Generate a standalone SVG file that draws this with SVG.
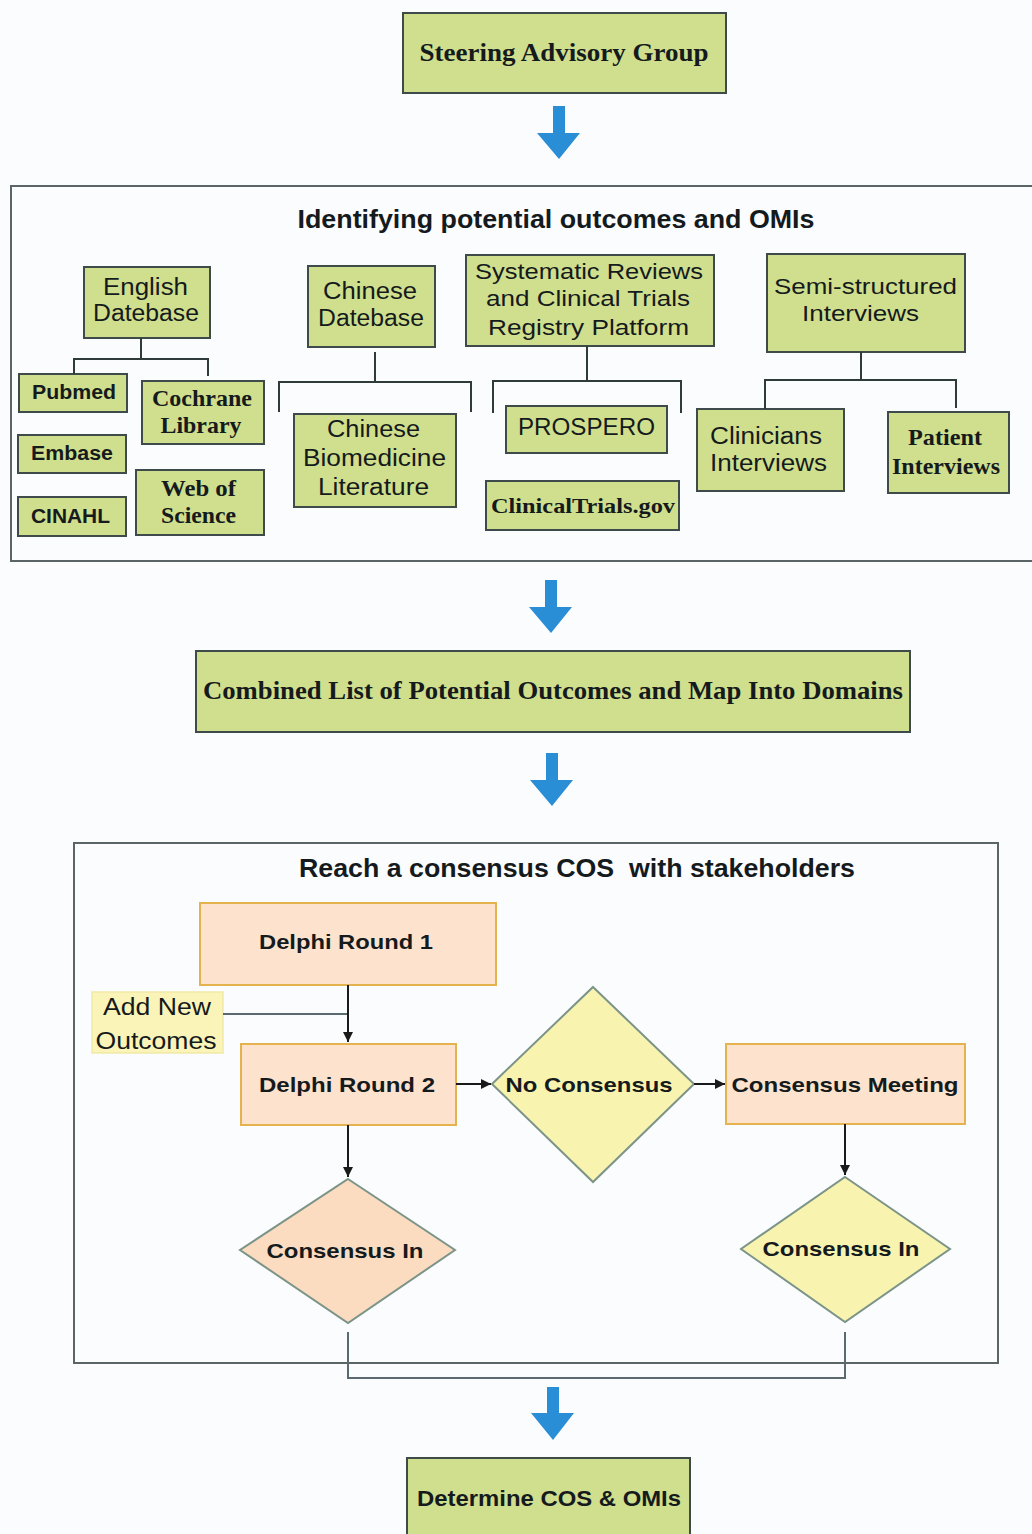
<svg xmlns="http://www.w3.org/2000/svg" width="1032" height="1534" viewBox="0 0 1032 1534">
<defs>
<style>
.bg{fill:#fbfcfe}
.g{fill:#d0df8d;stroke:#3f4b4b;stroke-width:2}
.sec{fill:none;stroke:#5b6568;stroke-width:2}
.br{fill:none;stroke:#2f3a3a;stroke-width:2}
.pe{fill:#fde3cd;stroke:#e5b34d;stroke-width:2}
.dy{fill:#f9f3b0;stroke:#7c9488;stroke-width:2}
.dp{fill:#fbdcc1;stroke:#7c9488;stroke-width:2}
.ny{fill:#fbf4b8;stroke:#f1e9a6;stroke-width:1.5}
.ss{font-family:"Liberation Sans",Arial,sans-serif;fill:#151a1c;text-anchor:middle}
.sb{font-family:"Liberation Sans",Arial,sans-serif;font-weight:bold;fill:#151a1c;text-anchor:middle}
.sf{font-family:"Liberation Serif","Times New Roman",serif;font-weight:bold;fill:#151a1c;text-anchor:middle}
.blue{fill:#2a8ed6}
.cn{fill:none;stroke:#1a1a1a;stroke-width:2}
.gl{fill:none;stroke:#5a6a70;stroke-width:2}
</style>
<marker id="ah" viewBox="0 0 10 10" refX="10" refY="5" markerWidth="5" markerHeight="5" orient="auto" markerUnits="strokeWidth">
<path d="M0,0 L10,5 L0,10 z" fill="#1a1a1a"/>
</marker>
</defs>
<rect class="bg" x="0" y="0" width="1032" height="1534"/>

<g id="steering">
<rect class="g" x="403" y="13" width="323" height="80"/>
<text class="sf" x="564" y="61" font-size="25" textLength="289" lengthAdjust="spacingAndGlyphs">Steering Advisory Group</text>
</g>

<g id="arrows-blue">
<path class="blue" d="M553,106 H565 V133 H580 L559,159 L537,133 H553 Z"/>
<path class="blue" d="M545,580 H557 V607 H572 L551,633 L529,607 H545 Z"/>
<path class="blue" d="M546,753 H558 V780 H573 L552,806 L530,780 H546 Z"/>
<path class="blue" d="M547,1387 H559 V1413 H574 L553,1440 L531,1413 H547 Z"/>
</g>

<g id="section-identify">
<rect class="sec" x="11" y="186" width="1040" height="375"/>
<text class="sb" x="556" y="228" font-size="25" textLength="517" lengthAdjust="spacingAndGlyphs">Identifying potential outcomes and OMIs</text>
</g>

<g id="english-db">
<rect class="g" x="84" y="267" width="126" height="71"/>
<text class="ss" x="145.5" y="295" font-size="23" textLength="85" lengthAdjust="spacingAndGlyphs">English</text>
<text class="ss" x="146" y="321" font-size="23" textLength="106" lengthAdjust="spacingAndGlyphs">Datebase</text>
</g>
<g id="pubmed"><rect class="g" x="19" y="374" width="108" height="38"/><text class="sb" x="74" y="399" font-size="20" textLength="84" lengthAdjust="spacingAndGlyphs">Pubmed</text></g>
<g id="cochrane"><rect class="g" x="142" y="381" width="122" height="63"/><text class="sf" x="202" y="406" font-size="23" textLength="100" lengthAdjust="spacingAndGlyphs">Cochrane</text><text class="sf" x="201" y="433" font-size="23" textLength="81" lengthAdjust="spacingAndGlyphs">Library</text></g>
<g id="embase"><rect class="g" x="18" y="435" width="108" height="38"/><text class="sb" x="72" y="460" font-size="20" textLength="82" lengthAdjust="spacingAndGlyphs">Embase</text></g>
<g id="cinahl"><rect class="g" x="18" y="497" width="108" height="39"/><text class="sb" x="70.5" y="523" font-size="20" textLength="79" lengthAdjust="spacingAndGlyphs">CINAHL</text></g>
<g id="webofscience"><rect class="g" x="136" y="470" width="128" height="65"/><text class="sf" x="198.5" y="496" font-size="23" textLength="75" lengthAdjust="spacingAndGlyphs">Web of</text><text class="sf" x="198.5" y="523" font-size="23" textLength="75" lengthAdjust="spacingAndGlyphs">Science</text></g>

<g id="chinese-db">
<rect class="g" x="308" y="266" width="127" height="81"/>
<text class="ss" x="370" y="299" font-size="23" textLength="94" lengthAdjust="spacingAndGlyphs">Chinese</text>
<text class="ss" x="371" y="326" font-size="23" textLength="106" lengthAdjust="spacingAndGlyphs">Datebase</text>
</g>
<g id="cbm">
<rect class="g" x="294" y="414" width="162" height="93"/>
<text class="ss" x="373.5" y="437" font-size="23" textLength="93" lengthAdjust="spacingAndGlyphs">Chinese</text>
<text class="ss" x="374.5" y="466" font-size="23" textLength="143" lengthAdjust="spacingAndGlyphs">Biomedicine</text>
<text class="ss" x="373.5" y="495" font-size="23" textLength="111" lengthAdjust="spacingAndGlyphs">Literature</text>
</g>

<g id="sysrev">
<rect class="g" x="466" y="255" width="248" height="91"/>
<text class="ss" x="589" y="279" font-size="22" textLength="228" lengthAdjust="spacingAndGlyphs">Systematic Reviews</text>
<text class="ss" x="588" y="306" font-size="22" textLength="204" lengthAdjust="spacingAndGlyphs">and Clinical Trials</text>
<text class="ss" x="588.5" y="335" font-size="22" textLength="201" lengthAdjust="spacingAndGlyphs">Registry Platform</text>
</g>
<g id="prospero"><rect class="g" x="506" y="406" width="161" height="47"/><text class="ss" x="586.5" y="435" font-size="23" textLength="137" lengthAdjust="spacingAndGlyphs">PROSPERO</text></g>
<g id="clinicaltrials"><rect class="g" x="486" y="481" width="193" height="49"/><text class="sf" x="583" y="513" font-size="22" textLength="184" lengthAdjust="spacingAndGlyphs">ClinicalTrials.gov</text></g>

<g id="semistructured">
<rect class="g" x="767" y="254" width="198" height="98"/>
<text class="ss" x="865.5" y="294" font-size="22" textLength="183" lengthAdjust="spacingAndGlyphs">Semi-structured</text>
<text class="ss" x="860.5" y="321" font-size="22" textLength="117" lengthAdjust="spacingAndGlyphs">Interviews</text>
</g>
<g id="clinicians"><rect class="g" x="697" y="409" width="147" height="82"/><text class="ss" x="766" y="444" font-size="23" textLength="112" lengthAdjust="spacingAndGlyphs">Clinicians</text><text class="ss" x="768.5" y="471" font-size="23" textLength="117" lengthAdjust="spacingAndGlyphs">Interviews</text></g>
<g id="patient"><rect class="g" x="888" y="412" width="121" height="81"/><text class="sf" x="945" y="445" font-size="23" textLength="74" lengthAdjust="spacingAndGlyphs">Patient</text><text class="sf" x="946" y="474" font-size="23" textLength="108" lengthAdjust="spacingAndGlyphs">Interviews</text></g>

<g id="brackets">
<path class="br" d="M141,338 V359 M74,374 V359 H208 V376"/>
<path class="br" d="M375,352 V382 M279,412 V382 H471 V412"/>
<path class="br" d="M587,346 V381 M493,413 V381 H681 V413"/>
<path class="br" d="M861,352 V380 M765,409 V380 H956 V408"/>
</g>

<g id="combined">
<rect class="g" x="196" y="651" width="714" height="81"/>
<text class="sf" x="553" y="699" font-size="26" textLength="700" lengthAdjust="spacingAndGlyphs">Combined List of Potential Outcomes and Map Into Domains</text>
</g>

<g id="section-consensus">
<rect class="sec" x="74" y="843" width="924" height="520"/>
<text class="sb" x="577" y="877" font-size="25" textLength="556" lengthAdjust="spacingAndGlyphs" xml:space="preserve">Reach a consensus COS  with stakeholders</text>
</g>

<g id="delphi1"><rect class="pe" x="200" y="903" width="296" height="82"/><text class="sb" x="346" y="949" font-size="21" textLength="174" lengthAdjust="spacingAndGlyphs">Delphi Round 1</text></g>
<g id="addnew"><rect class="ny" x="92" y="992" width="131" height="61"/><text class="ss" x="157" y="1015" font-size="23" textLength="108" lengthAdjust="spacingAndGlyphs">Add New</text><text class="ss" x="156" y="1049" font-size="23" textLength="121" lengthAdjust="spacingAndGlyphs">Outcomes</text></g>
<g id="delphi2"><rect class="pe" x="241" y="1044" width="215" height="81"/><text class="sb" x="347" y="1092" font-size="21" textLength="176" lengthAdjust="spacingAndGlyphs">Delphi Round 2</text></g>
<g id="noconsensus"><polygon class="dy" points="593,987 694,1084 593,1182 492,1084"/><text class="sb" x="589" y="1092" font-size="21" textLength="167" lengthAdjust="spacingAndGlyphs">No Consensus</text></g>
<g id="meeting"><rect class="pe" x="726" y="1044" width="239" height="80"/><text class="sb" x="845" y="1092" font-size="21" textLength="227" lengthAdjust="spacingAndGlyphs">Consensus Meeting</text></g>
<g id="consensus-in-left"><polygon class="dp" points="348,1179 455,1250 348,1323 240,1250"/><text class="sb" x="345" y="1258" font-size="21" textLength="157" lengthAdjust="spacingAndGlyphs">Consensus In</text></g>
<g id="consensus-in-right"><polygon class="dy" points="845,1177 950,1249 845,1322 741,1249"/><text class="sb" x="841" y="1256" font-size="21" textLength="157" lengthAdjust="spacingAndGlyphs">Consensus In</text></g>

<g id="determine">
<rect class="g" x="407" y="1458" width="283" height="90"/>
<text class="sb" x="549" y="1506" font-size="22" textLength="264" lengthAdjust="spacingAndGlyphs">Determine COS &amp; OMIs</text>
</g>

<g id="connectors">
<path class="gl" d="M223,1014 H348"/>
<path class="cn" d="M348,985 V1042" marker-end="url(#ah)"/>
<path class="cn" d="M456,1084 H491" marker-end="url(#ah)"/>
<path class="cn" d="M694,1084 H725" marker-end="url(#ah)"/>
<path class="cn" d="M348,1125 V1177" marker-end="url(#ah)"/>
<path class="cn" d="M845,1124 V1175" marker-end="url(#ah)"/>
<path class="gl" d="M348,1332 V1378 H845 V1332"/>
</g>
</svg>
